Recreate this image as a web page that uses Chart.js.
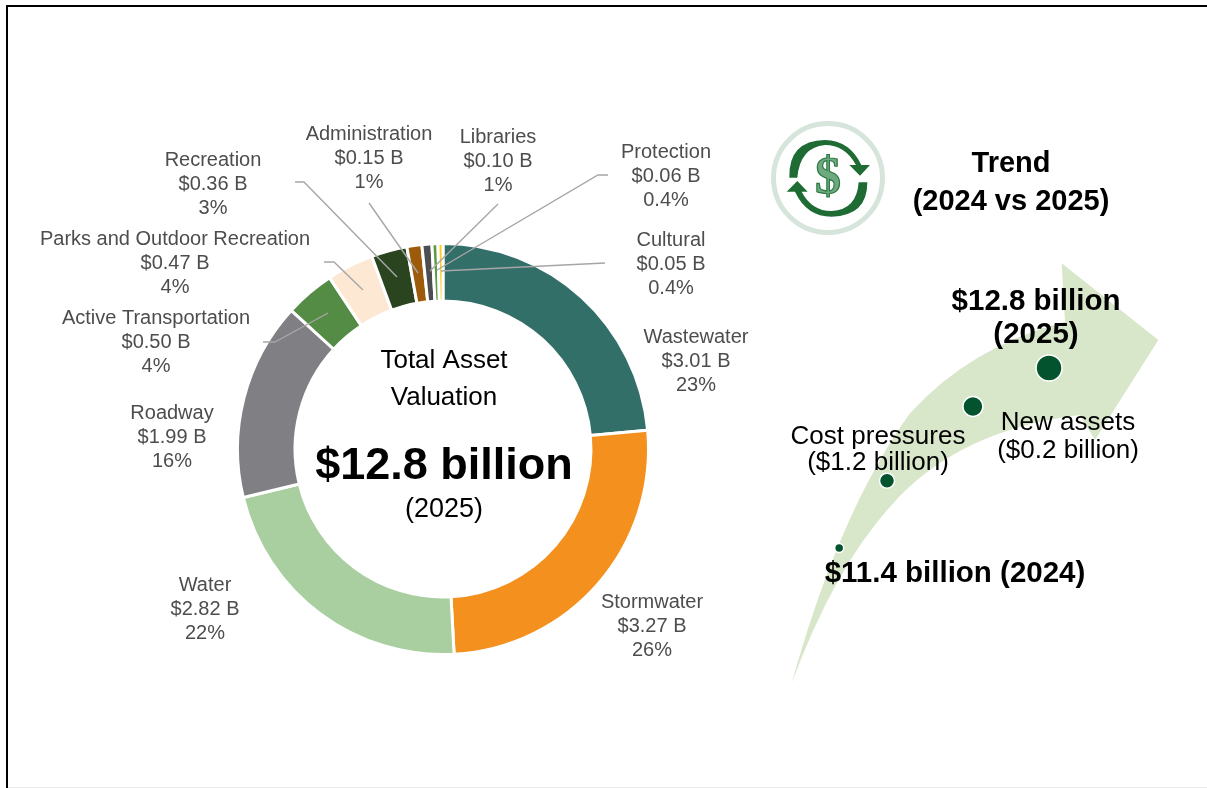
<!DOCTYPE html>
<html><head><meta charset="utf-8">
<script src="https://cdn.jsdelivr.net/npm/chart.js@4"></script>
<style>
html,body{margin:0;padding:0;background:#fff;overflow:hidden}
#wrap{position:relative;width:1207px;height:788px}
canvas{position:absolute;left:0;top:0}
</style></head><body>
<div id="wrap"><canvas id="donut" width="1207" height="788"></canvas><canvas id="trend" width="1207" height="788"></canvas></div>
<script>
// ---- data ----
const categories=["Wastewater","Stormwater","Water","Roadway","Active Transportation","Parks and Outdoor Recreation","Recreation","Administration","Libraries","Protection","Cultural"];
const values=[3.01,3.27,2.82,1.99,0.50,0.47,0.36,0.15,0.10,0.06,0.05];
const percentLabels=["23%","26%","22%","16%","4%","4%","3%","1%","1%","0.4%","0.4%"];
const sliceColors=["#336F69","#F4901E","#A9CEA0","#807F83","#548B45","#FDE9D3","#2A4420","#9C5A0A","#4D4E52","#5C9A48","#FFC91E"];
const trendNames=["2024","Cost pressures","New assets","2025"];
const trendX=[845,894,982,1060];
const trendY=[554,484,407,367];
const trendSize=[4.5,7.5,10,13];

// ---- layout of annotation text ----
const labelPos=[[696,337],[652,602],[205,585],[172,413],[156,318],[175,239],[213,160],[369,134],[498,137],[666,152],[671,240]];
const leaders=[null,null,null,null,
 [[263,342],[275,342],[328,313]],
 [[324,262],[334,262],[363,290]],
 [[295,182],[304,182],[397,277]],
 [[369,203],[418,273]],
 [[498,204],[430,271]],
 [[608,175],[598,175],[437,270]],
 [[605,263],[441,271]]];
const FONT='"Liberation Sans",Arial,sans-serif';
function txt(c,s,x,y,size,bold,color){
  c.font=(bold?'bold ':'')+size+'px '+FONT;c.fillStyle=color||'#000';
  c.textAlign='center';c.textBaseline='middle';c.fillText(s,x,y);
}
const annotate={id:'annotate',afterDraw(ch){
  const c=ch.ctx;c.save();
  // frame
  c.fillStyle='#000';c.fillRect(6,5,1201,2);c.fillRect(6,5,2,783);
  c.fillStyle='#E8E8E8';c.fillRect(8,787,1199,1);
  // leader lines
  c.strokeStyle='#A6A6A6';c.lineWidth=1.4;
  leaders.forEach(l=>{if(!l)return;c.beginPath();l.forEach((p,i)=>i?c.lineTo(p[0],p[1]):c.moveTo(p[0],p[1]));c.stroke();});
  // slice labels
  categories.forEach((n,i)=>{
    const [x,y]=labelPos[i];
    txt(c,n,x,y,20,false,'#4D4D4D');
    txt(c,'$'+values[i].toFixed(2)+' B',x,y+24,20,false,'#4D4D4D');
    txt(c,percentLabels[i],x,y+48,20,false,'#4D4D4D');
  });
  // centre
  txt(c,'Total Asset',444,361,26,false);
  txt(c,'Valuation',444,398,26,false);
  txt(c,'$12.8 billion',444,467,45,true);
  txt(c,'(2025)',444,510,27,false);
  c.restore();
}};
new Chart(document.getElementById('donut'),{type:'doughnut',
 data:{labels:categories,datasets:[{data:values,backgroundColor:sliceColors,borderColor:'#fff',borderWidth:3}]},
 options:{responsive:false,animation:false,cutout:'72%',
  layout:{padding:{left:236,right:557,top:242,bottom:132}},
  plugins:{legend:{display:false},tooltip:{enabled:false}}},
 plugins:[annotate]});

function z2(x,y){return [760+x/3,110+y/3];}
function z3(x,y){return [770+x/3,250+y/3];}
function drawIcon(c){
  c.save();
  c.strokeStyle='#D6E5DB';c.lineWidth=5;c.beginPath();c.arc(828,178,54.5,0,Math.PI*2);c.stroke();
  const dark='#1E6B34';
  const P=(pts)=>{ // pts: array of commands in zoom coordinates
    c.beginPath();
    pts.forEach(p=>{
      if(p.length===2){const a=z2(p[0],p[1]);c.lineTo(a[0],a[1]);}
      else{const a=z2(p[0],p[1]),b=z2(p[2],p[3]);c.quadraticCurveTo(a[0],a[1],b[0],b[1]);}
    });
    c.closePath();c.fillStyle=dark;c.fill();
  };
  P([[112,203],[88,203],[85,92,195,90],[270,92,304,165],[330,165],[300,197],[268,165],[288,165],[255,105,195,105],[120,112,112,203]]);
  P([[296,217],[322,217],[322,318,215,320],[140,320,105,245],[80,245],[112,213],[143,245],[125,245],[155,303,215,303],[290,300,296,217]]);
  c.font='bold 52px "Liberation Serif",serif';c.textAlign='center';c.textBaseline='middle';
  c.fillStyle='#6FA97F';c.strokeStyle='#2E7A45';c.lineWidth=1.2;
  c.fillText('$',828,180);c.strokeText('$',828,180);
  c.restore();
}
function drawArrow(c){
  c.save();c.fillStyle='#D8E6C9';c.beginPath();
  const pts=[
   [875,40],[1165,270],[975,570],[930,495]];
  let p=z3(65,1300);c.moveTo(p[0],p[1]);
  let q=z3(210,780),e=z3(420,490);c.quadraticCurveTo(q[0],q[1],e[0],e[1]);
  q=z3(600,290);e=z3(885,215);c.quadraticCurveTo(q[0],q[1],e[0],e[1]);
  pts.forEach(a=>{const b=z3(a[0],a[1]);c.lineTo(b[0],b[1]);});
  q=z3(560,540);e=z3(360,770);c.quadraticCurveTo(q[0],q[1],e[0],e[1]);
  q=z3(190,960);e=z3(65,1300);c.quadraticCurveTo(q[0],q[1],e[0],e[1]);
  c.closePath();c.fill();c.restore();
}
const trendDecor={id:'trendDecor',
 beforeDatasetsDraw(ch){drawArrow(ch.ctx);drawIcon(ch.ctx);},
 afterDraw(ch){const c=ch.ctx;c.save();
  txt(c,'Trend',1011,164,29,true);
  txt(c,'(2024 vs 2025)',1011,202,29,true);
  txt(c,'$12.8 billion',1036,302,29.5,true);
  txt(c,'(2025)',1036,335,29.5,true);
  txt(c,'Cost pressures',878,437,26,false);
  txt(c,'($1.2 billion)',878,463,26,false);
  txt(c,'New assets',1068,423,26,false);
  txt(c,'($0.2 billion)',1068,451,26,false);
  txt(c,'$11.4 billion (2024)',955,574,29.5,true);
  c.restore();}};
new Chart(document.getElementById('trend'),{type:'bubble',
 data:{labels:trendNames,datasets:[{data:trendX.map((x,i)=>({x:x,y:trendY[i],r:trendSize[i]})),
   backgroundColor:'#04532F',borderColor:'#fff',borderWidth:1.5}]},
 options:{responsive:false,animation:false,clip:false,
  scales:{x:{display:false,min:0,max:1207},y:{display:false,min:0,max:788,reverse:true}},
  plugins:{legend:{display:false},tooltip:{enabled:false}}},
 plugins:[trendDecor]});
</script>
</body></html>
